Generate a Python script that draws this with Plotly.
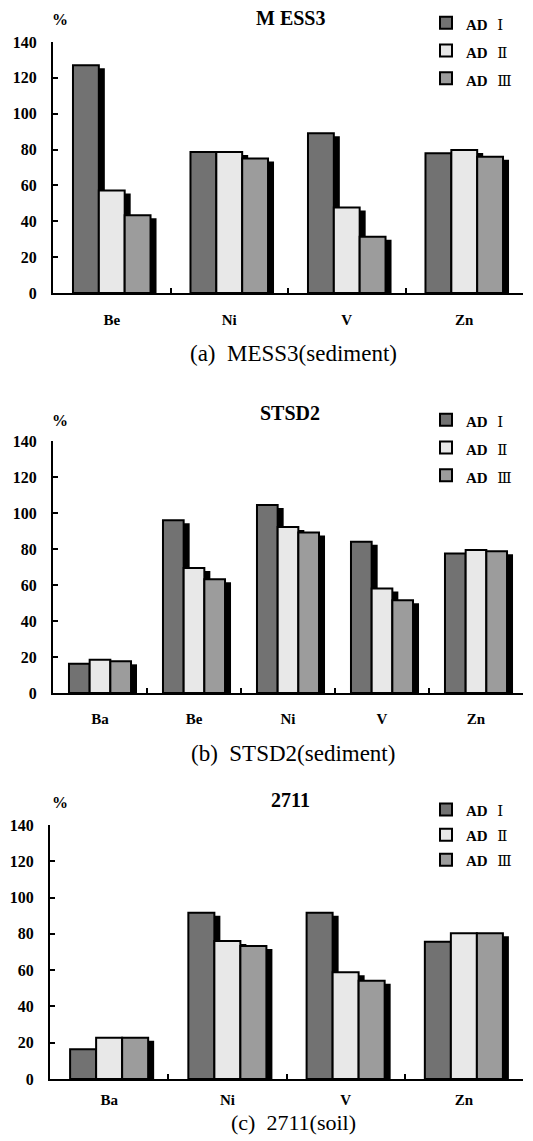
import plotly.graph_objects as go

# ---------------- data ----------------
series_labels = ["AD", "AD", "AD"]
series_numerals = ["Ⅰ", "Ⅱ", "Ⅲ"]

mess3_cats = ["Be", "Ni", "V", "Zn"]
mess3_ad1 = [127, 78.7, 89.1, 78]
mess3_ad2 = [57.2, 78.7, 47.7, 79.8]
mess3_ad3 = [43.3, 75, 31.4, 76]

stsd2_cats = ["Ba", "Be", "Ni", "V", "Zn"]
stsd2_ad1 = [16.3, 96, 104.4, 84, 77.5]
stsd2_ad2 = [18.5, 69.5, 92.2, 58, 79.4]
stsd2_ad3 = [17.6, 63.2, 89.2, 51.5, 78.8]

s2711_cats = ["Ba", "Ni", "V", "Zn"]
s2711_ad1 = [16.4, 91.7, 91.7, 75.7]
s2711_ad2 = [22.8, 76, 58.8, 80.3]
s2711_ad3 = [22.8, 73.3, 54.2, 80.3]

y_ticks = [0, 20, 40, 60, 80, 100, 120, 140]

# ---------------- style ----------------
W, H = 533, 1141
FONT = "Liberation Serif, Times New Roman, serif"
NUM_FONT = "DejaVu Serif, Liberation Serif, serif"
COLORS = ["#727272", "#e8e8e8", "#9c9c9c"]
BW = 0.22
SHADOW_X_PX = 6
SHADOW_Y_PX = 3

panels = [
    dict(cats=mess3_cats, vals=[mess3_ad1, mess3_ad2, mess3_ad3], title="M ESS3",
         caption="(a)  MESS3(sediment)", px=(53, 523), py=(42, 293), title_y=18,
         pct_y=20, cap_y=354, cap_size=23, leg_y=4, leg_font=19, standoff=12),
    dict(cats=stsd2_cats, vals=[stsd2_ad1, stsd2_ad2, stsd2_ad3], title="STSD2",
         caption="(b)  STSD2(sediment)", px=(53, 523), py=(441, 693), title_y=413,
         pct_y=420, cap_y=753, cap_size=23, leg_y=401, leg_font=19, standoff=11),
    dict(cats=s2711_cats, vals=[s2711_ad1, s2711_ad2, s2711_ad3], title="2711",
         caption="(c)  2711(soil)", px=(50, 523), py=(825, 1079), title_y=800,
         pct_y=803, cap_y=1122, cap_size=22, leg_y=792, leg_font=17, standoff=6),
]

fig = go.Figure()
annotations = []
layout = {}

for p_i, p in enumerate(panels):
    sfx = "" if p_i == 0 else str(p_i + 1)
    xa, ya = "x" + sfx, "y" + sfx
    leg = "legend" + sfx
    n = len(p["cats"])
    xs = list(range(n))
    cat_px = (p["px"][1] - p["px"][0]) / n
    unit_px = (p["py"][1] - p["py"][0]) / 140.0
    dx = SHADOW_X_PX / cat_px
    dy = SHADOW_Y_PX / unit_px
    # shadows first
    for k in range(3):
        fig.add_trace(go.Bar(
            x=xs, y=[v - dy for v in p["vals"][k]], width=BW,
            offset=(k - 1.5) * BW + dx, marker=dict(color="black", line=dict(width=0)),
            xaxis=xa, yaxis=ya, showlegend=False, hoverinfo="skip"))
    for k in range(3):
        name = (f"<span style='font-size:15px'><b>{series_labels[k]}</b></span>"
                f"<span style='font-size:15px;font-family:{NUM_FONT}'>  {series_numerals[k]}</span>")
        fig.add_trace(go.Bar(
            x=xs, y=p["vals"][k], width=BW, offset=(k - 1.5) * BW, name=name,
            marker=dict(color=COLORS[k], line=dict(color="black", width=2)),
            xaxis=xa, yaxis=ya, legend=leg, showlegend=True))

    xdom = [p["px"][0] / W, p["px"][1] / W]
    ydom = [1 - p["py"][1] / H, 1 - p["py"][0] / H]
    layout["xaxis" + sfx] = dict(
        domain=xdom, anchor=ya, range=[-0.5, n - 0.5], automargin=False,
        tickvals=xs, ticktext=[f"<b>{c}</b>" for c in p["cats"]], ticks="",
        ticklabelstandoff=p["standoff"],
        tickfont=dict(family=FONT, size=15, color="black"),
        showline=True, linecolor="black", linewidth=2, showgrid=False, zeroline=False,
        minor=dict(tickvals=[i + 0.5 for i in range(n - 1)], ticks="inside",
                   ticklen=5, tickwidth=2, tickcolor="black", showgrid=False),
        fixedrange=True)
    layout["yaxis" + sfx] = dict(
        domain=ydom, anchor=xa, range=[0, 140], tickvals=y_ticks, automargin=False,
        ticktext=[f"<b>{t}</b>" for t in y_ticks], ticks="inside", ticklen=5,
        tickwidth=2, tickcolor="black", ticklabelstandoff=11,
        tickfont=dict(family=FONT, size=16, color="black"),
        showline=True, linecolor="black", linewidth=2, showgrid=False, zeroline=False,
        fixedrange=True)
    layout[leg] = dict(
        x=426 / W, y=1 - p["leg_y"] / H, xanchor="left", yanchor="top",
        font=dict(family=FONT, size=p["leg_font"], color="black"), bgcolor="rgba(0,0,0,0)",
        itemwidth=30, tracegroupgap=0, traceorder="normal")
    annotations.append(dict(text=f"<b>{p['title']}</b>", x=290 / W, y=1 - p["title_y"] / H,
                            xref="paper", yref="paper", showarrow=False,
                            xanchor="center", yanchor="middle",
                            font=dict(family=FONT, size=20, color="black")))
    annotations.append(dict(text="<b>%</b>", x=60 / W, y=1 - p["pct_y"] / H,
                            xref="paper", yref="paper", showarrow=False,
                            xanchor="center", yanchor="middle",
                            font=dict(family=FONT, size=16, color="black")))
    annotations.append(dict(text=p["caption"], x=293 / W, y=1 - p["cap_y"] / H,
                            xref="paper", yref="paper", showarrow=False,
                            xanchor="center", yanchor="middle",
                            font=dict(family=FONT, size=p["cap_size"], color="black")))

fig.update_layout(
    width=W, height=H, autosize=False, margin=dict(l=0, r=0, t=0, b=0),
    paper_bgcolor="white", plot_bgcolor="white", barmode="overlay",
    annotations=annotations, **layout)

fig.write_html("out.html", config={"displayModeBar": False},
               post_script="document.body.style.margin='0';document.body.style.overflow='hidden';")
